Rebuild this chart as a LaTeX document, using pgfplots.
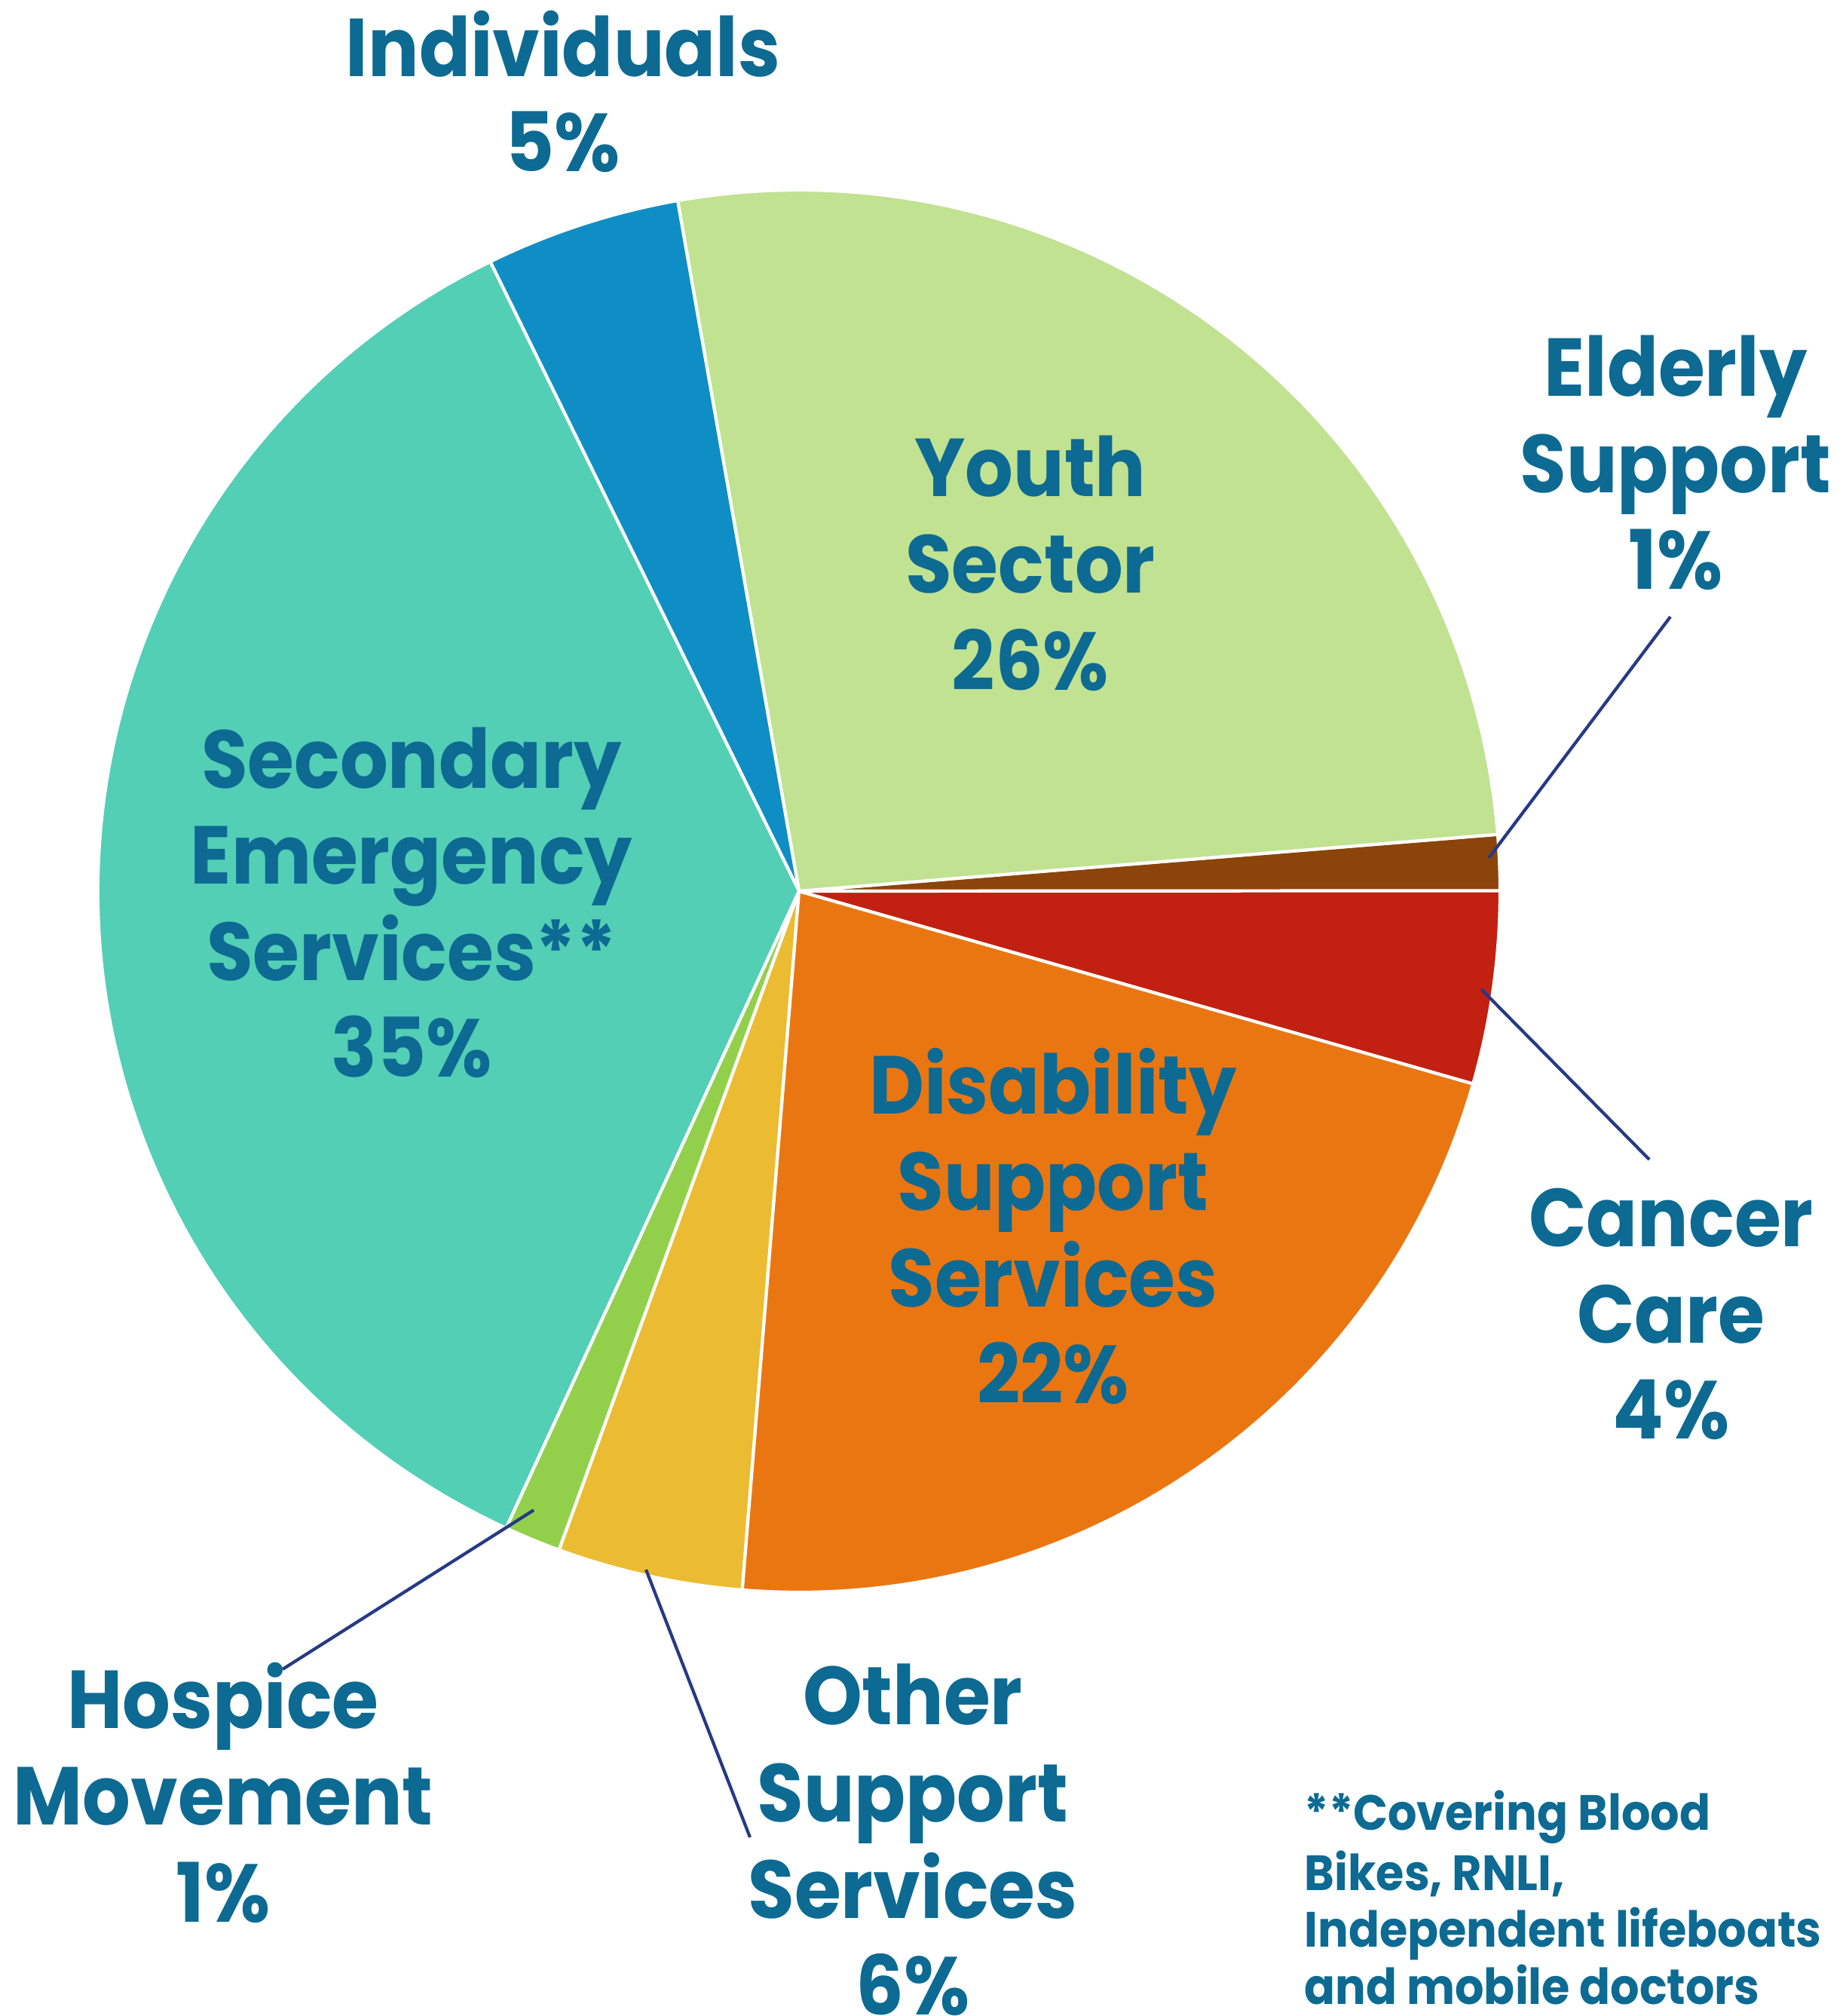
\documentclass[border=0pt]{standalone}
\usepackage{pgfplots}
\usepackage{pgfplotstable}
\pgfplotsset{compat=1.18}
\usepackage{fontspec}
\setmainfont{Poppins}[FakeStretch=0.92]

\definecolor{cElderly}{HTML}{8B450A}
\definecolor{cYouth}{HTML}{C0E291}
\definecolor{cIndiv}{HTML}{0F8EC6}
\definecolor{cSecond}{HTML}{52CFB4}
\definecolor{cHospice}{HTML}{92D04C}
\definecolor{cOther}{HTML}{EBBC31}
\definecolor{cDisab}{HTML}{EA7612}
\definecolor{cCancer}{HTML}{C22010}
\definecolor{cText}{HTML}{0C6A93}
\definecolor{cLeader}{HTML}{263A85}

% shares in percent, counter-clockwise from 3 o'clock
\pgfplotstableread{
name value colour
Elderly 1.29 cElderly
Youth 26.48 cYouth
Individuals 4.49 cIndiv
Secondary 35.88 cSecond
Hospice 1.30 cHospice
Other 4.27 cOther
Disability 21.86 cDisab
Cancer 4.44 cCancer
}\piedata

\newcommand{\lbl}[3]{\node[anchor=base, text=cText, font=\fontsize{31}{36}\selectfont\bfseries, inner sep=0pt] at (axis cs:#1,#2) {#3};}
\newcommand{\note}[2]{\node[anchor=base west, text=cText, font=\fontsize{18.7}{22}\selectfont\bfseries, inner sep=0pt] at (axis cs:1730,#1) {#2};}

\begin{document}
\begin{tikzpicture}
\begin{axis}[
  width=24.44cm, height=26.74cm, scale only axis,
  xmin=0, xmax=2444, ymin=0, ymax=2674,
  y dir=reverse,
  hide axis, clip=false]

\pgfplotsextra{%
  \pgfplotstablegetrowsof{\piedata}%
  \pgfmathtruncatemacro{\lastrow}{\pgfplotsretval-1}%
  \gdef\pieStart{0}%
  \foreach \i in {0,...,\lastrow}{%
    \pgfplotstablegetelem{\i}{value}\of{\piedata}\let\v\pgfplotsretval
    \pgfplotstablegetelem{\i}{colour}\of{\piedata}\let\c\pgfplotsretval
    \pgfmathsetmacro{\pieEnd}{\pieStart+3.6*\v}%
    \fill[fill=\c, draw=white, line width=1.2pt, line join=round]
      (axis cs:1060,1182) -- ++(\pieStart:9.3cm)
      arc[start angle=\pieStart, end angle=\pieEnd, radius=9.3cm] -- cycle;
    \xdef\pieStart{\pieEnd}%
  }%
}

% leader lines
\draw[cLeader, line width=1.2pt] (axis cs:1975,1138) -- (axis cs:2216,818);
\draw[cLeader, line width=1.2pt] (axis cs:1965,1312) -- (axis cs:2188,1538);
\draw[cLeader, line width=1.2pt] (axis cs:708,2003) -- (axis cs:375,2214);
\draw[cLeader, line width=1.2pt] (axis cs:857,2082) -- (axis cs:995,2437);

% labels
\lbl{747}{102}{Individuals}
\lbl{747}{228}{5\%}
\lbl{1367}{659}{Youth}
\lbl{1367}{787}{Sector}
\lbl{1367}{915}{26\%}
\lbl{2223}{526}{Elderly}
\lbl{2223}{654}{Support}
\lbl{2223}{781}{1\%}
\lbl{546}{1045}{Secondary}
\lbl{546}{1172}{Emergency}
\lbl{546}{1300}{Services**}
\lbl{546}{1428}{35\%}
\lbl{1397}{1477}{Disability}
\lbl{1397}{1605}{Support}
\lbl{1397}{1733}{Services}
\lbl{1397}{1861}{22\%}
\lbl{2217}{1653}{Cancer}
\lbl{2217}{1781}{Care}
\lbl{2217}{1908}{4\%}
\lbl{296}{2292}{Hospice}
\lbl{296}{2420}{Movement}
\lbl{296}{2549}{1\%}
\lbl{1211}{2287}{Other}
\lbl{1211}{2416}{Support}
\lbl{1211}{2544}{Services}
\lbl{1211}{2672}{6\%}

\note{2427}{**Covering Blood}
\note{2507}{Bikes, RNLI,}
\note{2582}{Independent lifeboats}
\note{2658}{and mobile doctors}
\end{axis}
\pgfresetboundingbox
\path[use as bounding box] (0,0) rectangle (24.44cm,26.74cm);
\end{tikzpicture}
\end{document}
